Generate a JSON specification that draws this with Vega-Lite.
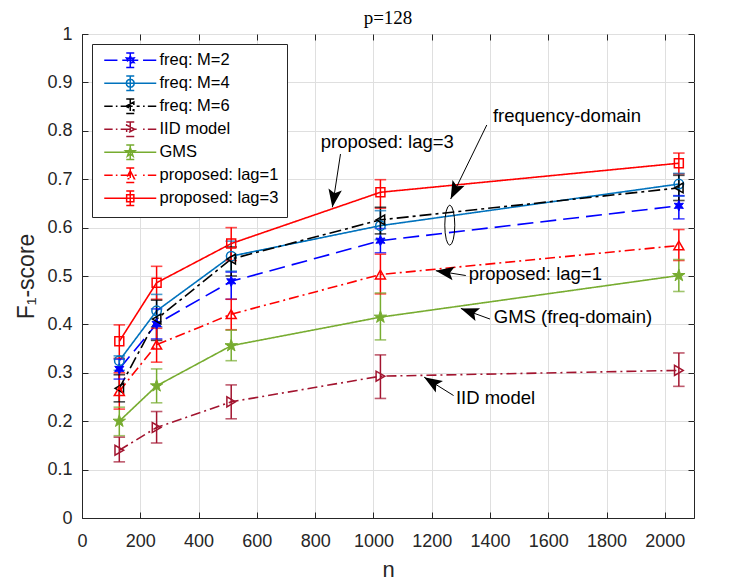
{
  "$schema": "https://vega.github.io/schema/vega-lite/v6.json",
  "width": 612,
  "height": 484,
  "autosize": {"type": "none"},
  "padding": {"left": 82, "top": 34, "right": 53, "bottom": 67},
  "background": "white",
  "title": {"text": "p=128", "font": "Liberation Serif", "fontSize": 19, "fontWeight": "normal", "offset": -3, "color": "#000000"},
  "config": {
    "font": "Liberation Sans",
    "view": {"stroke": "#262626", "strokeWidth": 1},
    "axis": {
      "domainColor": "#262626", "tickColor": "#262626", "labelColor": "#262626", "titleColor": "#262626",
      "labelFont": "Liberation Sans", "titleFont": "Liberation Sans", "labelFontSize": 18, "titleFontSize": 22,
      "titleFontWeight": "normal", "gridColor": "#dfdfdf", "gridWidth": 1, "tickSize": -6, "domainWidth": 1,
      "labelOverlap": false
    },
    "legend": {
      "orient": "top-left", "offset": 10, "padding": 8, "strokeColor": "#262626", "fillColor": "#ffffff",
      "labelFont": "Liberation Sans", "labelFontSize": 16.5, "labelColor": "#000000",
      "symbolSize": 64, "symbolStrokeWidth": 1.5, "symbolOpacity": 1, "symbolOffset": 22, "labelOffset": 21,
      "rowPadding": 2
    }
  },
  "datasets": {
    "scores": [
      {"series": "freq: M=2", "n": 128, "f": 0.308, "lo": 0.287, "hi": 0.328},
      {"series": "freq: M=2", "n": 256, "f": 0.401, "lo": 0.370, "hi": 0.432},
      {"series": "freq: M=2", "n": 512, "f": 0.489, "lo": 0.452, "hi": 0.508},
      {"series": "freq: M=2", "n": 1024, "f": 0.573, "lo": 0.548, "hi": 0.598},
      {"series": "freq: M=2", "n": 2048, "f": 0.645, "lo": 0.618, "hi": 0.666},
      {"series": "freq: M=4", "n": 128, "f": 0.325, "lo": 0.305, "hi": 0.335},
      {"series": "freq: M=4", "n": 256, "f": 0.428, "lo": 0.395, "hi": 0.462},
      {"series": "freq: M=4", "n": 512, "f": 0.541, "lo": 0.510, "hi": 0.572},
      {"series": "freq: M=4", "n": 1024, "f": 0.604, "lo": 0.575, "hi": 0.635},
      {"series": "freq: M=4", "n": 2048, "f": 0.690, "lo": 0.665, "hi": 0.712},
      {"series": "freq: M=6", "n": 128, "f": 0.268, "lo": 0.240, "hi": 0.296},
      {"series": "freq: M=6", "n": 256, "f": 0.411, "lo": 0.367, "hi": 0.450},
      {"series": "freq: M=6", "n": 512, "f": 0.535, "lo": 0.500, "hi": 0.560},
      {"series": "freq: M=6", "n": 1024, "f": 0.616, "lo": 0.587, "hi": 0.642},
      {"series": "freq: M=6", "n": 2048, "f": 0.682, "lo": 0.656, "hi": 0.708},
      {"series": "IID model", "n": 128, "f": 0.140, "lo": 0.116, "hi": 0.167},
      {"series": "IID model", "n": 256, "f": 0.187, "lo": 0.155, "hi": 0.220},
      {"series": "IID model", "n": 512, "f": 0.240, "lo": 0.205, "hi": 0.275},
      {"series": "IID model", "n": 1024, "f": 0.293, "lo": 0.247, "hi": 0.337},
      {"series": "IID model", "n": 2048, "f": 0.305, "lo": 0.272, "hi": 0.341},
      {"series": "GMS", "n": 128, "f": 0.200, "lo": 0.170, "hi": 0.229},
      {"series": "GMS", "n": 256, "f": 0.273, "lo": 0.238, "hi": 0.308},
      {"series": "GMS", "n": 512, "f": 0.356, "lo": 0.325, "hi": 0.388},
      {"series": "GMS", "n": 1024, "f": 0.415, "lo": 0.368, "hi": 0.465},
      {"series": "GMS", "n": 2048, "f": 0.501, "lo": 0.468, "hi": 0.534},
      {"series": "proposed: lag=1", "n": 128, "f": 0.262, "lo": 0.225, "hi": 0.300},
      {"series": "proposed: lag=1", "n": 256, "f": 0.358, "lo": 0.322, "hi": 0.392},
      {"series": "proposed: lag=1", "n": 512, "f": 0.421, "lo": 0.389, "hi": 0.452},
      {"series": "proposed: lag=1", "n": 1024, "f": 0.503, "lo": 0.463, "hi": 0.545},
      {"series": "proposed: lag=1", "n": 2048, "f": 0.563, "lo": 0.532, "hi": 0.596},
      {"series": "proposed: lag=3", "n": 128, "f": 0.365, "lo": 0.330, "hi": 0.399},
      {"series": "proposed: lag=3", "n": 256, "f": 0.486, "lo": 0.452, "hi": 0.520},
      {"series": "proposed: lag=3", "n": 512, "f": 0.567, "lo": 0.532, "hi": 0.600},
      {"series": "proposed: lag=3", "n": 1024, "f": 0.673, "lo": 0.640, "hi": 0.699},
      {"series": "proposed: lag=3", "n": 2048, "f": 0.733, "lo": 0.711, "hi": 0.754}
    ],
    "notes": [
      {"label": "proposed: lag=3", "tx": 819, "ty": 0.777, "x0": 887, "y0": 0.752, "x1": 859, "y1": 0.642},
      {"label": "frequency-domain", "tx": 1410, "ty": 0.831, "x0": 1389, "y0": 0.812, "x1": 1265, "y1": 0.659},
      {"label": "proposed: lag=1", "tx": 1327, "ty": 0.504, "x0": 1317, "y0": 0.501, "x1": 1214, "y1": 0.511},
      {"label": "GMS (freq-domain)", "tx": 1413, "ty": 0.415, "x0": 1400, "y0": 0.411, "x1": 1300, "y1": 0.433},
      {"label": "IID model", "tx": 1283, "ty": 0.248, "x0": 1275, "y0": 0.253, "x1": 1174, "y1": 0.291}
    ],
    "ring": [{"n": 1262, "f": 0.605}]
  },
  "layer": [
    {
      "data": {"name": "scores"},
      "mark": {"type": "point", "filled": false, "opacity": 0},
      "encoding": {
        "x": {"field": "n", "type": "quantitative", "scale": {"domain": [0, 2100], "nice": false, "zero": false}, "axis": null},
        "y": {"field": "f", "type": "quantitative", "scale": {"domain": [0, 1], "nice": false}, "axis": null},
        "color": {"field": "series", "type": "nominal", "title": null,
                  "scale": {"domain": ["freq: M=2", "freq: M=4", "freq: M=6", "IID model", "GMS", "proposed: lag=1", "proposed: lag=3"],
                            "range": ["#0000ff", "#0072bd", "#000000", "#a2142f", "#77ac30", "#ff0000", "#ff0000"]},
                  "legend": {"title": null, "symbolOpacity": 1, "symbolSize": 64, "symbolStrokeWidth": 1.5, "symbolOffset": 22, "labelOffset": 21, "rowPadding": 2, "padding": 8, "orient": "top-left", "offset": 10,
                             "encode": {"symbols": {"fill": {"value": "transparent"}}}}},
        "shape": {"field": "series", "type": "nominal", "title": null,
                  "legend": {"title": null, "symbolOpacity": 1, "symbolSize": 64, "symbolStrokeWidth": 1.5, "symbolOffset": 22, "labelOffset": 21, "rowPadding": 2, "padding": 8, "orient": "top-left", "offset": 10,
                             "encode": {"symbols": {"fill": {"value": "transparent"}}}},
                  "scale": {"domain": ["freq: M=2", "freq: M=4", "freq: M=6", "IID model", "GMS", "proposed: lag=1", "proposed: lag=3"],
                            "range": [
                              "M-6.5,0L-3.2,0M-2,0L2,0M3.2,0L6.5,0M0,-1.8L0,1.8M-1,-1.8L1,-1.8M-1,1.8L1,1.8M0,-1.1L0.275,-0.476L0.953,-0.55L0.55,0L0.953,0.55L0.275,0.476L0,1.1L-0.275,0.476L-0.953,0.55L-0.55,0L-0.953,-0.55L-0.275,-0.476Z",
                              "M-6.5,0L6.5,0M0,-1.8L0,1.8M-1,-1.8L1,-1.8M-1,1.8L1,1.8M1,0L0.866,0.5L0.5,0.866L0,1L-0.5,0.866L-0.866,0.5L-1,0L-0.866,-0.5L-0.5,-0.866L0,-1L0.5,-0.866L0.866,-0.5Z",
                              "M-6.5,0L-4.4,0M-3.6,0L-3.2,0M-2.4,0L2.4,0M3.2,0L3.6,0M4.4,0L6.5,0M0,-1.8L0,1.8M-1,-1.8L1,-1.8M-1,1.8L1,1.8M-1.1,0L0.9,-1.05L0.9,1.05Z",
                              "M-6.5,0L-4.4,0M-3.6,0L-3.2,0M-2.4,0L2.4,0M3.2,0L3.6,0M4.4,0L6.5,0M0,-1.8L0,1.8M-1,-1.8L1,-1.8M-1,1.8L1,1.8M1.1,0L-0.9,-1.05L-0.9,1.05Z",
                              "M-6.5,0L6.5,0M0,-1.8L0,1.8M-1,-1.8L1,-1.8M-1,1.8L1,1.8M0,-1.2L0.269,-0.371L1.141,-0.371L0.436,0.142L0.706,0.971L0,0.458L-0.706,0.971L-0.436,0.142L-1.141,-0.371L-0.269,-0.371Z",
                              "M-6.5,0L-4.4,0M-3.6,0L-3.2,0M-2.4,0L2.4,0M3.2,0L3.6,0M4.4,0L6.5,0M0,-1.8L0,1.8M-1,-1.8L1,-1.8M-1,1.8L1,1.8M0,-1.1L1.05,0.9L-1.05,0.9Z",
                              "M-6.5,0L6.5,0M0,-1.8L0,1.8M-1,-1.8L1,-1.8M-1,1.8L1,1.8M-0.9,-0.9L0.9,-0.9L0.9,0.9L-0.9,0.9Z"
                            ]}}
      }
    },
    {
      "data": {"name": "scores"},
      "mark": {"type": "line", "strokeWidth": 1.6},
      "encoding": {
        "x": {"field": "n", "type": "quantitative",
              "axis": {"title": "n", "values": [0, 200, 400, 600, 800, 1000, 1200, 1400, 1600, 1800, 2000], "format": "d", "grid": true, "labelPadding": 20, "titlePadding": 9, "labelFlush": false}},
        "y": {"field": "f", "type": "quantitative",
              "axis": {"title": "F₁-score", "titleFontSize": 23, "values": [0, 0.1, 0.2, 0.3, 0.4, 0.5, 0.6, 0.7, 0.8, 0.9, 1], "format": "~g", "grid": true, "labelPadding": 16, "titlePadding": 8, "labelFlush": false}},
        "color": {"field": "series", "type": "nominal"},
        "strokeDash": {"field": "series", "type": "nominal",
                       "scale": {"domain": ["freq: M=2", "freq: M=4", "freq: M=6", "IID model", "GMS", "proposed: lag=1", "proposed: lag=3"],
                                 "range": [[16, 7], [1, 0], [12, 4, 3, 4], [10, 4, 2, 4], [1, 0], [10, 4, 2, 4], [1, 0]]},
                       "legend": null}
      }
    },
    {
      "data": {"name": "scores"},
      "mark": {"type": "rule", "strokeWidth": 1.5},
      "encoding": {
        "x": {"field": "n", "type": "quantitative", "axis": {"orient": "top", "labels": false, "title": null, "grid": false, "domain": false, "values": [0, 200, 400, 600, 800, 1000, 1200, 1400, 1600, 1800, 2000]}},
        "y": {"field": "lo", "type": "quantitative", "axis": {"orient": "right", "labels": false, "title": null, "grid": false, "domain": false, "values": [0, 0.1, 0.2, 0.3, 0.4, 0.5, 0.6, 0.7, 0.8, 0.9, 1]}},
        "y2": {"field": "hi"},
        "color": {"field": "series", "type": "nominal"}
      }
    },
    {
      "data": {"name": "scores"},
      "mark": {"type": "tick", "orient": "horizontal", "size": 10, "thickness": 0.1, "filled": false, "strokeWidth": 1.5},
      "encoding": {
        "x": {"field": "n", "type": "quantitative", "axis": null},
        "y": {"field": "lo", "type": "quantitative", "axis": null},
        "color": {"field": "series", "type": "nominal"}
      }
    },
    {
      "data": {"name": "scores"},
      "mark": {"type": "tick", "orient": "horizontal", "size": 10, "thickness": 0.1, "filled": false, "strokeWidth": 1.5},
      "encoding": {
        "x": {"field": "n", "type": "quantitative", "axis": null},
        "y": {"field": "hi", "type": "quantitative", "axis": null},
        "color": {"field": "series", "type": "nominal"}
      }
    },
    {
      "data": {"name": "scores"},
      "transform": [{"filter": "datum.series === 'freq: M=2'"}],
      "mark": {"type": "point", "shape": "M0,-1L0.25,-0.433L0.866,-0.5L0.5,0L0.866,0.5L0.25,0.433L0,1L-0.25,0.433L-0.866,0.5L-0.5,0L-0.866,-0.5L-0.25,-0.433Z", "size": 110, "filled": true, "color": "#0000ff", "stroke": "#0000ff", "strokeWidth": 1, "opacity": 1},
      "encoding": {"x": {"field": "n", "type": "quantitative", "axis": null}, "y": {"field": "f", "type": "quantitative", "axis": null}}
    },
    {
      "data": {"name": "scores"},
      "transform": [{"filter": "datum.series === 'freq: M=4'"}],
      "mark": {"type": "point", "shape": "circle", "size": 90, "filled": false, "color": "#0072bd", "strokeWidth": 1.5, "opacity": 1},
      "encoding": {"x": {"field": "n", "type": "quantitative", "axis": null}, "y": {"field": "f", "type": "quantitative", "axis": null}}
    },
    {
      "data": {"name": "scores"},
      "transform": [{"filter": "datum.series === 'freq: M=6'"}],
      "mark": {"type": "point", "shape": "triangle-left", "size": 95, "filled": false, "color": "#000000", "strokeWidth": 1.5, "opacity": 1},
      "encoding": {"x": {"field": "n", "type": "quantitative", "axis": null}, "y": {"field": "f", "type": "quantitative", "axis": null}}
    },
    {
      "data": {"name": "scores"},
      "transform": [{"filter": "datum.series === 'IID model'"}],
      "mark": {"type": "point", "shape": "triangle-right", "size": 100, "filled": false, "color": "#a2142f", "strokeWidth": 1.5, "opacity": 1},
      "encoding": {"x": {"field": "n", "type": "quantitative", "axis": null}, "y": {"field": "f", "type": "quantitative", "axis": null}}
    },
    {
      "data": {"name": "scores"},
      "transform": [{"filter": "datum.series === 'GMS'"}],
      "mark": {"type": "point", "shape": "M0,-1L0.2245,-0.309L0.951,-0.309L0.363,0.118L0.588,0.809L0,0.382L-0.588,0.809L-0.363,0.118L-0.951,-0.309L-0.2245,-0.309Z", "size": 170, "filled": true, "color": "#77ac30", "stroke": "#77ac30", "strokeWidth": 1, "opacity": 1},
      "encoding": {"x": {"field": "n", "type": "quantitative", "axis": null}, "y": {"field": "f", "type": "quantitative", "axis": null}}
    },
    {
      "data": {"name": "scores"},
      "transform": [{"filter": "datum.series === 'proposed: lag=1'"}],
      "mark": {"type": "point", "shape": "triangle-up", "size": 100, "filled": false, "color": "#ff0000", "strokeWidth": 1.5, "opacity": 1},
      "encoding": {"x": {"field": "n", "type": "quantitative", "axis": null}, "y": {"field": "f", "type": "quantitative", "axis": null}}
    },
    {
      "data": {"name": "scores"},
      "transform": [{"filter": "datum.series === 'proposed: lag=3'"}],
      "mark": {"type": "point", "shape": "square", "size": 80, "filled": false, "color": "#ff0000", "strokeWidth": 1.5, "opacity": 1},
      "encoding": {"x": {"field": "n", "type": "quantitative", "axis": null}, "y": {"field": "f", "type": "quantitative", "axis": null}}
    },
    {
      "data": {"name": "ring"},
      "mark": {"type": "point", "shape": "M0.25,0L0.231,0.383L0.177,0.707L0.096,0.924L0,1L-0.096,0.924L-0.177,0.707L-0.231,0.383L-0.25,0L-0.231,-0.383L-0.177,-0.707L-0.096,-0.924L0,-1L0.096,-0.924L0.177,-0.707L0.231,-0.383Z", "size": 1600, "filled": false, "color": "#000000", "strokeWidth": 1, "opacity": 1},
      "encoding": {"x": {"field": "n", "type": "quantitative", "axis": null}, "y": {"field": "f", "type": "quantitative", "axis": null}}
    },
    {
      "data": {"name": "notes"},
      "mark": {"type": "rule", "color": "#000000", "strokeWidth": 1},
      "encoding": {
        "x": {"field": "x0", "type": "quantitative", "axis": null},
        "y": {"field": "y0", "type": "quantitative", "axis": null},
        "x2": {"field": "x1"},
        "y2": {"field": "y1"}
      }
    },
    {
      "data": {"name": "notes"},
      "transform": [{"filter": "datum.label === 'proposed: lag=3'"}],
      "mark": {"type": "point", "shape": "M0,0L0.45,1.2L0,0.95L-0.45,1.2Z", "size": 900, "filled": true, "color": "#000000", "opacity": 1, "angle": 189},
      "encoding": {"x": {"field": "x1", "type": "quantitative", "axis": null}, "y": {"field": "y1", "type": "quantitative", "axis": null}}
    },
    {
      "data": {"name": "notes"},
      "transform": [{"filter": "datum.label === 'frequency-domain'"}],
      "mark": {"type": "point", "shape": "M0,0L0.45,1.2L0,0.95L-0.45,1.2Z", "size": 900, "filled": true, "color": "#000000", "opacity": 1, "angle": 206},
      "encoding": {"x": {"field": "x1", "type": "quantitative", "axis": null}, "y": {"field": "y1", "type": "quantitative", "axis": null}}
    },
    {
      "data": {"name": "notes"},
      "transform": [{"filter": "datum.label === 'proposed: lag=1'"}],
      "mark": {"type": "point", "shape": "M0,0L0.45,1.2L0,0.95L-0.45,1.2Z", "size": 900, "filled": true, "color": "#000000", "opacity": 1, "angle": 279},
      "encoding": {"x": {"field": "x1", "type": "quantitative", "axis": null}, "y": {"field": "y1", "type": "quantitative", "axis": null}}
    },
    {
      "data": {"name": "notes"},
      "transform": [{"filter": "datum.label === 'GMS (freq-domain)'"}],
      "mark": {"type": "point", "shape": "M0,0L0.45,1.2L0,0.95L-0.45,1.2Z", "size": 900, "filled": true, "color": "#000000", "opacity": 1, "angle": 290},
      "encoding": {"x": {"field": "x1", "type": "quantitative", "axis": null}, "y": {"field": "y1", "type": "quantitative", "axis": null}}
    },
    {
      "data": {"name": "notes"},
      "transform": [{"filter": "datum.label === 'IID model'"}],
      "mark": {"type": "point", "shape": "M0,0L0.45,1.2L0,0.95L-0.45,1.2Z", "size": 900, "filled": true, "color": "#000000", "opacity": 1, "angle": 302},
      "encoding": {"x": {"field": "x1", "type": "quantitative", "axis": null}, "y": {"field": "y1", "type": "quantitative", "axis": null}}
    },
    {
      "data": {"name": "notes"},
      "mark": {"type": "text", "align": "left", "baseline": "middle", "font": "Liberation Sans", "fontSize": 18.5, "color": "#000000"},
      "encoding": {
        "x": {"field": "tx", "type": "quantitative", "axis": null},
        "y": {"field": "ty", "type": "quantitative", "axis": null},
        "text": {"field": "label", "type": "nominal"}
      }
    }
  ],
  "resolve": {"axis": {"x": "independent", "y": "independent"}}
}
